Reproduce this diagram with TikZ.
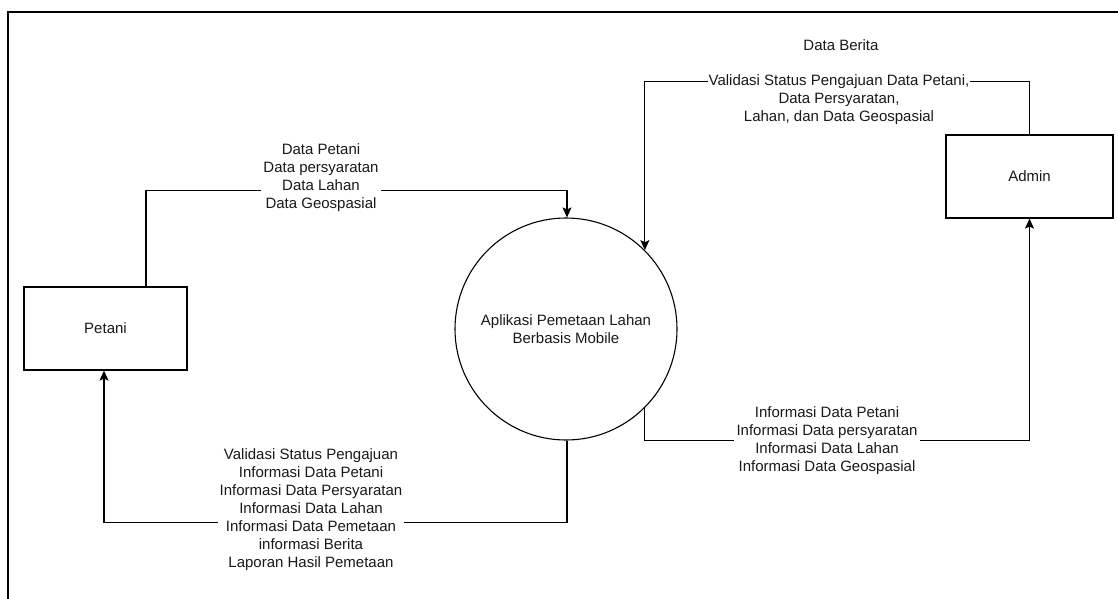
\documentclass[tikz,border=0pt]{standalone}
\usepackage{fontspec}
\setmainfont{Liberation Sans}
\usetikzlibrary{arrows.meta}
\begin{document}
\begin{tikzpicture}[x=1pt,y=-1pt,
  every node/.style={font=\fontsize{15}{18}\selectfont, text=black!90},
  entity/.style={draw, line width=1.2pt, minimum width=163pt, minimum height=83pt, inner sep=0pt},
  proc/.style={draw, circle, line width=1.1pt, minimum size=222pt, inner sep=0pt, align=center},
  flow/.style={draw, line width=1.1pt, -{Stealth[length=10pt,width=9pt,inset=2pt]}},
  lbl/.style={fill=white, align=center, inner sep=2pt}]
\useasboundingbox (0,0) rectangle (1118,599);
\draw[line width=1.4pt] (8,599) -- (8,12) -- (1118,12);

\node[entity] (petani) at (105.5,328.5) {Petani};
\node[entity, minimum width=167pt] (admin) at (1029.5,176.5) {Admin};
\node[proc] (app) at (566,329) {Aplikasi Pemetaan Lahan\\Berbasis Mobile};

\node (berita) at (841,45) {Data Berita};

% Petani -> App
\draw[flow] ([xshift=40.5pt]petani.north) -- ++(0,-96) coordinate (p1) -| ([xshift=1pt]app.north);
\node[lbl] (l1) at (321,178) {Data Petani\\Data persyaratan\\Data Lahan\\Data Geospasial};

% Admin -> App
\draw[flow] (admin.north) -- ++(0,-53) coordinate (a1) -| (app.45);
\node[lbl, inner sep=1pt] (l2) at (839,99.5) {Validasi Status Pengajuan Data Petani,\\Data Persyaratan,\\Lahan, dan Data Geospasial};

% App -> Petani
\draw[flow] ([xshift=1pt]app.south) -- ++(0,82) coordinate (b1) -| ([xshift=-1.5pt]petani.south);
\node[lbl] (l3) at (311,510) {Validasi Status Pengajuan\\Informasi Data Petani\\Informasi Data Persyaratan\\Informasi Data Lahan\\Informasi Data Pemetaan\\informasi Berita\\Laporan Hasil Pemetaan};

% App -> Admin
\draw[flow] (app.-45) -- ++(0,33) coordinate (c1) -| (admin.south);
\node[lbl, inner sep=3pt] (l4) at (827,441) {Informasi Data Petani\\Informasi Data persyaratan\\Informasi Data Lahan\\Informasi Data Geospasial};
\end{tikzpicture}
\end{document}
